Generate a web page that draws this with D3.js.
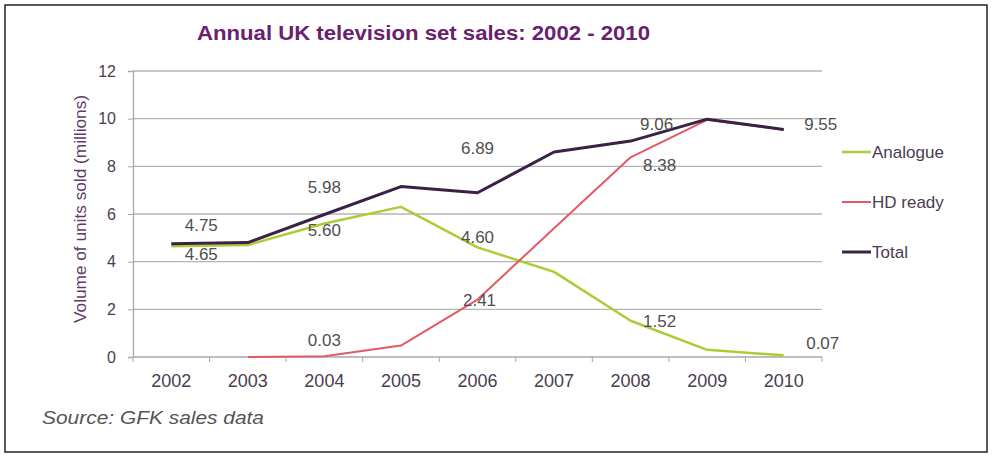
<!DOCTYPE html>
<html>
<head>
<meta charset="utf-8">
<script src="https://cdn.jsdelivr.net/npm/d3@7"></script>
<style>
  body { margin: 0; background: #fff; }
  text { font-family: "Liberation Sans", Arial, sans-serif; }
</style>
</head>
<body>
<script>
// data
const years = ["2002", "2003", "2004", "2005", "2006", "2007", "2008", "2009", "2010"]
const analogue = [4.65, 4.70, 5.60, 6.30, 4.60, 3.57, 1.52, 0.30, 0.07]
const hdReady = [null, 0.0, 0.03, 0.48, 2.41, 5.40, 8.38, 9.95, 9.53]
const total = [4.75, 4.80, 5.98, 7.15, 6.89, 8.60, 9.06, 9.98, 9.55]
const yTicks = [0, 2, 4, 6, 8, 10, 12]

// data labels: [series, year, text, dx, dy] – offsets from the point
const labels = [
  ["total", "2002", "4.75", 30, -18],
  ["analogue", "2002", "4.65", 30, 8],
  ["total", "2004", "5.98", 0, -27],
  ["analogue", "2004", "5.60", 0, 7],
  ["total", "2006", "6.89", 0, -44],
  ["analogue", "2006", "4.60", 0, -10],
  ["hd", "2006", "2.41", 2, 1],
  ["hd", "2004", "0.03", 0, -16],
  ["total", "2008", "9.06", 26, -17],
  ["hd", "2008", "8.38", 29, 8],
  ["analogue", "2008", "1.52", 29, 1],
  ["total", "2010", "9.55", 37, -5],
  ["analogue", "2010", "0.07", 39, -12]
]

const series = [
  { key: "analogue", name: "Analogue", values: analogue, color: "#aacd35", width: 2.5 },
  { key: "hd", name: "HD ready", values: hdReady, color: "#e25a64", width: 2 },
  { key: "total", name: "Total", values: total, color: "#3a2145", width: 3 }
]

const W = 992, H = 455
const svg = d3.select("body").append("svg")
  .attr("width", W)
  .attr("height", H)

// outer frame
svg.append("rect")
  .attr("x", 5).attr("y", 5)
  .attr("width", 982).attr("height", 447)
  .attr("fill", "none")
  .attr("stroke", "#222")
  .attr("stroke-width", 1.5)

const x = d3.scaleBand().domain(years).range([133, 822]).padding(0)
const y = d3.scaleLinear().domain([0, 12]).range([357, 71])
const cx = d => x(d) + x.bandwidth() / 2

// gridlines
svg.append("g")
  .selectAll("line")
  .data(yTicks.filter(t => t > 0))
  .enter()
  .append("line")
  .attr("x1", 133).attr("x2", 822)
  .attr("y1", d => y(d)).attr("y2", d => y(d))
  .attr("stroke", "#b4b4b4")
  .attr("stroke-width", 1.3)

// y axis
const yAxis = svg.append("g")
  .attr("transform", "translate(133,0)")
  .call(d3.axisLeft(y).tickValues(yTicks).tickSize(5).tickPadding(12))
yAxis.select(".domain").attr("stroke", "#a8a8a8").attr("stroke-width", 1.3)
yAxis.selectAll(".tick line").attr("stroke", "#a8a8a8")
yAxis.selectAll("text")
  .attr("font-size", 16)
  .attr("fill", "#4a3d52")
  .style("font-family", "Liberation Sans, Arial, sans-serif")

// x axis: ticks on the category boundaries
const xAxis = svg.append("g")
  .attr("transform", "translate(0,357)")
const xEdges = years.map(d => x(d)).concat([x(years[years.length - 1]) + x.bandwidth()])
xAxis.append("line")
  .attr("x1", 133).attr("x2", 822)
  .attr("stroke", "#a8a8a8").attr("stroke-width", 1.5)
xAxis.selectAll(".tk")
  .data(xEdges)
  .enter()
  .append("line")
  .attr("class", "tk")
  .attr("x1", d => d).attr("x2", d => d)
  .attr("y1", 0).attr("y2", 5)
  .attr("stroke", "#a8a8a8")
xAxis.selectAll(".yr")
  .data(years)
  .enter()
  .append("text")
  .attr("x", d => cx(d))
  .attr("y", 30)
  .attr("text-anchor", "middle")
  .attr("font-size", 18)
  .attr("fill", "#4a3d52")
  .text(d => d)

// lines
const line = d3.line()
  .defined(d => d.v != null)
  .x(d => cx(d.year))
  .y(d => y(d.v))

series.forEach(s => {
  svg.append("path")
    .datum(years.map((yr, i) => ({ year: yr, v: s.values[i] })))
    .attr("d", line)
    .attr("fill", "none")
    .attr("stroke", s.color)
    .attr("stroke-width", s.width)
    .attr("stroke-linejoin", "round")
})

// data labels
const byKey = {}
series.forEach(s => byKey[s.key] = s)
svg.append("g")
  .selectAll("text")
  .data(labels)
  .enter()
  .append("text")
  .attr("x", d => cx(d[1]) + d[3])
  .attr("y", d => y(byKey[d[0]].values[years.indexOf(d[1])]) + d[4])
  .attr("text-anchor", "middle")
  .attr("dominant-baseline", "central")
  .attr("font-size", 17)
  .attr("fill", "#505050")
  .text(d => d[2])

// title
svg.append("text")
  .attr("x", 197).attr("y", 40)
  .attr("textLength", 453)
  .attr("lengthAdjust", "spacingAndGlyphs")
  .attr("font-size", 20)
  .attr("font-weight", "bold")
  .attr("fill", "#6a2070")
  .text("Annual UK television set sales: 2002 - 2010")

// y axis title
svg.append("text")
  .attr("transform", "translate(80,209) rotate(-90)")
  .attr("text-anchor", "middle")
  .attr("dominant-baseline", "central")
  .attr("textLength", 228)
  .attr("lengthAdjust", "spacingAndGlyphs")
  .attr("font-size", 16)
  .attr("fill", "#5c3d6a")
  .text("Volume of units sold (millions)")

// legend
const legend = svg.append("g")
  .selectAll("g")
  .data(series)
  .enter()
  .append("g")
  .attr("transform", (d, i) => `translate(842,${152 + i * 50})`)
legend.append("line")
  .attr("x1", 0).attr("x2", 29)
  .attr("stroke", d => d.color)
  .attr("stroke-width", d => d.width)
legend.append("text")
  .attr("x", 30)
  .attr("dominant-baseline", "central")
  .attr("font-size", 17)
  .attr("fill", "#4a3d52")
  .text(d => d.name)

// source note
svg.append("text")
  .attr("x", 42).attr("y", 424)
  .attr("textLength", 222)
  .attr("lengthAdjust", "spacingAndGlyphs")
  .attr("font-size", 18)
  .attr("font-style", "italic")
  .attr("fill", "#555")
  .text("Source: GFK sales data")
</script>
</body>
</html>
